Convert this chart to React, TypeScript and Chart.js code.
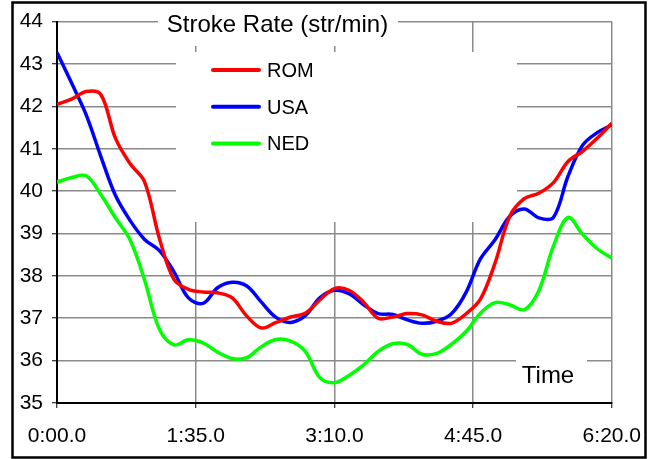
import React, { useEffect, useRef } from "react";
import { Chart, registerables } from "chart.js";

Chart.register(...registerables);

const TITLE = "Stroke Rate (str/min)";
const X_LABEL = "Time";
const SERIES_NAMES = ["ROM", "USA", "NED"];
const SERIES_COLORS = ["#ff0000", "#0000ff", "#00ff00"];

// seconds
const times = [
  0, 10, 20, 30, 40, 50, 60, 70, 80, 90, 100, 110, 120, 130, 140, 150, 160, 170, 180, 190,
  200, 210, 220, 230, 240, 250, 260, 270, 280, 290, 300, 310, 320, 330, 340, 350, 360, 370, 380,
];

const rom = [
  42.05, 42.17, 42.35, 42.28, 41.25, 40.65, 40.22, 38.9, 37.92, 37.68, 37.62, 37.6, 37.48, 37.05,
  36.77, 36.9, 37.03, 37.12, 37.43, 37.7, 37.66, 37.38, 37.0, 37.03, 37.11, 37.08, 36.93, 36.88,
  37.1, 37.45, 38.3, 39.4, 39.82, 39.95, 40.2, 40.7, 40.94, 41.25, 41.6,
];

const usa = [
  43.27, 42.55, 41.8, 40.82, 39.9, 39.31, 38.86, 38.6, 38.1, 37.48, 37.35, 37.72, 37.85, 37.76,
  37.38, 37.02, 36.9, 37.06, 37.48, 37.66, 37.58, 37.32, 37.11, 37.09, 36.96, 36.88, 36.93, 37.1,
  37.6, 38.4, 38.85, 39.4, 39.58, 39.37, 39.38, 40.35, 41.08, 41.38, 41.56,
];

const ned = [
  40.21, 40.32, 40.36, 39.92, 39.37, 38.85, 37.9, 36.75, 36.37, 36.49, 36.42, 36.2, 36.05, 36.07,
  36.33, 36.5, 36.46, 36.22, 35.6, 35.48, 35.65, 35.9, 36.22, 36.4, 36.38, 36.15, 36.17, 36.38,
  36.68, 37.12, 37.37, 37.32, 37.2, 37.65, 38.7, 39.38, 38.98, 38.64, 38.42,
];

const X_MIN = 0;
const X_MAX = 380;
const X_STEP = 95;
const Y_MIN = 35;
const Y_MAX = 44;
const Y_STEP = 1;

const FONT = '"Liberation Sans", Arial, sans-serif';

function fmtTime(v: number): string {
  const m = Math.floor(v / 60);
  const s = Math.round(v - m * 60);
  return `${m}:${String(s).padStart(2, "0")}.0`;
}

const decor = {
  id: "decor",
  beforeDatasetsDraw(chart: any) {
    const ctx = chart.ctx as CanvasRenderingContext2D;
    ctx.save();
    // white boxes that interrupt grid lines
    ctx.fillStyle = "#ffffff";
    ctx.fillRect(158, 4, 240, 42);
    ctx.fillRect(176, 52, 341, 170);
    ctx.fillRect(516, 344, 71, 56);

    ctx.fillStyle = "#000000";
    ctx.textAlign = "center";
    ctx.textBaseline = "alphabetic";
    ctx.font = `24px ${FONT}`;
    ctx.fillText(TITLE, 277.5, 31.5);
    ctx.fillText(X_LABEL, 548, 383);

    // legend
    ctx.font = `20px ${FONT}`;
    ctx.textAlign = "left";
    chart.data.datasets.forEach((ds: any, i: number) => {
      const y = 70 + i * 36.7;
      ctx.strokeStyle = ds.borderColor;
      ctx.lineWidth = 4;
      ctx.lineCap = "round";
      ctx.beginPath();
      ctx.moveTo(213, y);
      ctx.lineTo(259, y);
      ctx.stroke();
      ctx.fillStyle = "#000000";
      ctx.fillText(ds.label, 267, y + 7);
    });
    ctx.restore();
  },
  afterDraw(chart: any) {
    const ctx = chart.ctx as CanvasRenderingContext2D;
    ctx.save();
    ctx.strokeStyle = "#000000";
    ctx.lineWidth = 2.5;
    ctx.strokeRect(12.5, 2.5, 633, 455);
    ctx.restore();
  },
};

export default function App() {
  const ref = useRef<HTMLCanvasElement | null>(null);

  useEffect(() => {
    document.body.style.margin = "0";
    const canvas = ref.current;
    if (!canvas) return;
    const seriesValues = [rom, usa, ned];
    const chart = new Chart(canvas, {
      type: "line",
      data: {
        datasets: seriesValues.map((vals, i) => ({
          label: SERIES_NAMES[i],
          data: times.map((t, j) => ({ x: t, y: vals[j] })),
          borderColor: SERIES_COLORS[i],
          backgroundColor: SERIES_COLORS[i],
          borderWidth: 3.5,
          pointRadius: 0,
          tension: 0.35,
          fill: false,
        })),
      },
      options: {
        animation: false,
        responsive: false,
        maintainAspectRatio: false,
        devicePixelRatio: 1,
        layout: { padding: { left: 0, top: 20.5, right: 43.5, bottom: 0 } },
        plugins: {
          legend: { display: false },
          title: { display: false },
          tooltip: { enabled: false },
        },
        scales: {
          x: {
            type: "linear",
            min: X_MIN,
            max: X_MAX,
            afterFit: (s: any) => {
              s.height = 56;
            },
            ticks: {
              stepSize: X_STEP,
              color: "#000",
              font: { family: FONT, size: 21 },
              padding: 16,
              maxRotation: 0,
              callback: (v: any) => fmtTime(Number(v)),
            },
            grid: {
              color: "#8a8a8a",
              lineWidth: 1.5,
              tickColor: "#000",
              tickLength: 5,
              tickWidth: 1,
            },
            border: { color: "#000", width: 2 },
          },
          y: {
            min: Y_MIN,
            max: Y_MAX,
            afterFit: (s: any) => {
              s.width = 57;
            },
            ticks: {
              stepSize: Y_STEP,
              color: "#000",
              font: { family: FONT, size: 21 },
              padding: 9,
            },
            grid: {
              color: "#8a8a8a",
              lineWidth: 1.5,
              tickColor: "#000",
              tickLength: 5,
              tickWidth: 1,
            },
            border: { color: "#000", width: 2 },
          },
        },
      },
      plugins: [decor],
    });
    return () => chart.destroy();
  }, []);

  return (
    <div style={{ width: 657, height: 459, background: "#fff" }}>
      <canvas ref={ref} width={657} height={459} style={{ display: "block" }} />
    </div>
  );
}
